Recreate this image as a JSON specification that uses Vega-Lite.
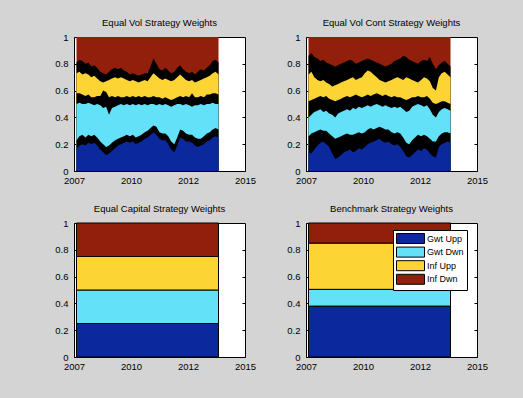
{
"$schema": "https://vega.github.io/schema/vega-lite/v6.json",
"background": "#d4d4d4",
"autosize": {"type": "none"},
"padding": {"left": 74, "top": 37, "right": 449, "bottom": 361},
"datasets": {
"ev": [
{"t":2007.12,"u1":0.16,"h1":0.23,"u2":0.50,"h2":0.58,"u3":0.73,"h3":0.81},
{"t":2007.26,"u1":0.19,"h1":0.26,"u2":0.51,"h2":0.58,"u3":0.74,"h3":0.83},
{"t":2007.40,"u1":0.20,"h1":0.27,"u2":0.50,"h2":0.57,"u3":0.72,"h3":0.82},
{"t":2007.55,"u1":0.19,"h1":0.25,"u2":0.50,"h2":0.56,"u3":0.73,"h3":0.80},
{"t":2007.69,"u1":0.21,"h1":0.27,"u2":0.51,"h2":0.57,"u3":0.72,"h3":0.81},
{"t":2007.83,"u1":0.20,"h1":0.26,"u2":0.50,"h2":0.55,"u3":0.70,"h3":0.78},
{"t":2007.97,"u1":0.21,"h1":0.27,"u2":0.49,"h2":0.55,"u3":0.71,"h3":0.79},
{"t":2008.11,"u1":0.19,"h1":0.25,"u2":0.50,"h2":0.56,"u3":0.69,"h3":0.77},
{"t":2008.26,"u1":0.16,"h1":0.22,"u2":0.49,"h2":0.56,"u3":0.67,"h3":0.74},
{"t":2008.40,"u1":0.14,"h1":0.20,"u2":0.47,"h2":0.60,"u3":0.66,"h3":0.73},
{"t":2008.54,"u1":0.12,"h1":0.18,"u2":0.48,"h2":0.59,"u3":0.67,"h3":0.72},
{"t":2008.68,"u1":0.13,"h1":0.19,"u2":0.42,"h2":0.55,"u3":0.68,"h3":0.74},
{"t":2008.82,"u1":0.15,"h1":0.21,"u2":0.47,"h2":0.56,"u3":0.69,"h3":0.76},
{"t":2008.97,"u1":0.17,"h1":0.23,"u2":0.48,"h2":0.55,"u3":0.70,"h3":0.77},
{"t":2009.11,"u1":0.19,"h1":0.24,"u2":0.49,"h2":0.56,"u3":0.69,"h3":0.76},
{"t":2009.25,"u1":0.20,"h1":0.25,"u2":0.50,"h2":0.55,"u3":0.70,"h3":0.77},
{"t":2009.39,"u1":0.21,"h1":0.26,"u2":0.49,"h2":0.55,"u3":0.69,"h3":0.75},
{"t":2009.53,"u1":0.22,"h1":0.27,"u2":0.50,"h2":0.56,"u3":0.68,"h3":0.74},
{"t":2009.68,"u1":0.21,"h1":0.26,"u2":0.49,"h2":0.55,"u3":0.67,"h3":0.72},
{"t":2009.82,"u1":0.22,"h1":0.27,"u2":0.50,"h2":0.56,"u3":0.68,"h3":0.73},
{"t":2009.96,"u1":0.20,"h1":0.25,"u2":0.49,"h2":0.55,"u3":0.67,"h3":0.72},
{"t":2010.10,"u1":0.21,"h1":0.26,"u2":0.50,"h2":0.56,"u3":0.66,"h3":0.71},
{"t":2010.24,"u1":0.22,"h1":0.27,"u2":0.49,"h2":0.55,"u3":0.67,"h3":0.72},
{"t":2010.39,"u1":0.24,"h1":0.29,"u2":0.50,"h2":0.56,"u3":0.68,"h3":0.73},
{"t":2010.53,"u1":0.25,"h1":0.30,"u2":0.49,"h2":0.55,"u3":0.67,"h3":0.73},
{"t":2010.67,"u1":0.27,"h1":0.32,"u2":0.50,"h2":0.55,"u3":0.70,"h3":0.78},
{"t":2010.81,"u1":0.29,"h1":0.34,"u2":0.50,"h2":0.56,"u3":0.73,"h3":0.84},
{"t":2010.95,"u1":0.27,"h1":0.33,"u2":0.49,"h2":0.55,"u3":0.71,"h3":0.80},
{"t":2011.10,"u1":0.24,"h1":0.29,"u2":0.50,"h2":0.55,"u3":0.69,"h3":0.76},
{"t":2011.24,"u1":0.23,"h1":0.28,"u2":0.49,"h2":0.54,"u3":0.68,"h3":0.75},
{"t":2011.38,"u1":0.23,"h1":0.28,"u2":0.50,"h2":0.55,"u3":0.69,"h3":0.77},
{"t":2011.52,"u1":0.20,"h1":0.26,"u2":0.49,"h2":0.54,"u3":0.68,"h3":0.75},
{"t":2011.66,"u1":0.16,"h1":0.22,"u2":0.48,"h2":0.53,"u3":0.67,"h3":0.73},
{"t":2011.81,"u1":0.14,"h1":0.20,"u2":0.49,"h2":0.54,"u3":0.68,"h3":0.74},
{"t":2011.95,"u1":0.19,"h1":0.25,"u2":0.50,"h2":0.55,"u3":0.70,"h3":0.77},
{"t":2012.09,"u1":0.25,"h1":0.31,"u2":0.50,"h2":0.56,"u3":0.72,"h3":0.79},
{"t":2012.23,"u1":0.24,"h1":0.30,"u2":0.49,"h2":0.55,"u3":0.70,"h3":0.76},
{"t":2012.37,"u1":0.22,"h1":0.28,"u2":0.50,"h2":0.56,"u3":0.68,"h3":0.74},
{"t":2012.52,"u1":0.22,"h1":0.27,"u2":0.49,"h2":0.55,"u3":0.67,"h3":0.73},
{"t":2012.66,"u1":0.21,"h1":0.27,"u2":0.48,"h2":0.58,"u3":0.68,"h3":0.74},
{"t":2012.80,"u1":0.19,"h1":0.25,"u2":0.49,"h2":0.55,"u3":0.66,"h3":0.72},
{"t":2012.94,"u1":0.18,"h1":0.24,"u2":0.49,"h2":0.55,"u3":0.67,"h3":0.74},
{"t":2013.08,"u1":0.19,"h1":0.24,"u2":0.50,"h2":0.56,"u3":0.68,"h3":0.76},
{"t":2013.23,"u1":0.20,"h1":0.26,"u2":0.49,"h2":0.55,"u3":0.69,"h3":0.75},
{"t":2013.37,"u1":0.22,"h1":0.28,"u2":0.50,"h2":0.57,"u3":0.70,"h3":0.77},
{"t":2013.51,"u1":0.23,"h1":0.29,"u2":0.50,"h2":0.57,"u3":0.71,"h3":0.79},
{"t":2013.65,"u1":0.25,"h1":0.31,"u2":0.51,"h2":0.58,"u3":0.73,"h3":0.82},
{"t":2013.79,"u1":0.26,"h1":0.32,"u2":0.50,"h2":0.58,"u3":0.74,"h3":0.83},
{"t":2013.93,"u1":0.25,"h1":0.31,"u2":0.50,"h2":0.57,"u3":0.72,"h3":0.81}
],
"evc": [
{"t":2007.12,"u1":0.14,"h1":0.26,"u2":0.40,"h2":0.52,"u3":0.72,"h3":0.86},
{"t":2007.26,"u1":0.13,"h1":0.28,"u2":0.42,"h2":0.53,"u3":0.74,"h3":0.88},
{"t":2007.40,"u1":0.16,"h1":0.29,"u2":0.44,"h2":0.54,"u3":0.70,"h3":0.85},
{"t":2007.55,"u1":0.19,"h1":0.30,"u2":0.45,"h2":0.55,"u3":0.68,"h3":0.84},
{"t":2007.69,"u1":0.21,"h1":0.31,"u2":0.46,"h2":0.56,"u3":0.67,"h3":0.82},
{"t":2007.83,"u1":0.22,"h1":0.30,"u2":0.44,"h2":0.55,"u3":0.68,"h3":0.83},
{"t":2007.97,"u1":0.20,"h1":0.30,"u2":0.45,"h2":0.56,"u3":0.66,"h3":0.81},
{"t":2008.11,"u1":0.18,"h1":0.28,"u2":0.43,"h2":0.54,"u3":0.65,"h3":0.80},
{"t":2008.26,"u1":0.13,"h1":0.26,"u2":0.42,"h2":0.53,"u3":0.63,"h3":0.79},
{"t":2008.40,"u1":0.09,"h1":0.24,"u2":0.40,"h2":0.52,"u3":0.64,"h3":0.78},
{"t":2008.54,"u1":0.10,"h1":0.25,"u2":0.43,"h2":0.53,"u3":0.65,"h3":0.79},
{"t":2008.68,"u1":0.12,"h1":0.26,"u2":0.44,"h2":0.54,"u3":0.66,"h3":0.80},
{"t":2008.82,"u1":0.14,"h1":0.27,"u2":0.45,"h2":0.55,"u3":0.67,"h3":0.81},
{"t":2008.97,"u1":0.15,"h1":0.28,"u2":0.46,"h2":0.56,"u3":0.68,"h3":0.82},
{"t":2009.11,"u1":0.16,"h1":0.27,"u2":0.45,"h2":0.55,"u3":0.69,"h3":0.83},
{"t":2009.25,"u1":0.14,"h1":0.27,"u2":0.47,"h2":0.56,"u3":0.70,"h3":0.82},
{"t":2009.39,"u1":0.15,"h1":0.28,"u2":0.46,"h2":0.57,"u3":0.68,"h3":0.80},
{"t":2009.53,"u1":0.17,"h1":0.29,"u2":0.48,"h2":0.56,"u3":0.69,"h3":0.81},
{"t":2009.68,"u1":0.16,"h1":0.28,"u2":0.47,"h2":0.55,"u3":0.70,"h3":0.82},
{"t":2009.82,"u1":0.18,"h1":0.29,"u2":0.48,"h2":0.56,"u3":0.73,"h3":0.83},
{"t":2009.96,"u1":0.20,"h1":0.31,"u2":0.49,"h2":0.57,"u3":0.75,"h3":0.84},
{"t":2010.10,"u1":0.21,"h1":0.32,"u2":0.48,"h2":0.56,"u3":0.74,"h3":0.83},
{"t":2010.24,"u1":0.22,"h1":0.31,"u2":0.49,"h2":0.57,"u3":0.72,"h3":0.82},
{"t":2010.39,"u1":0.23,"h1":0.32,"u2":0.50,"h2":0.58,"u3":0.70,"h3":0.81},
{"t":2010.53,"u1":0.24,"h1":0.33,"u2":0.49,"h2":0.57,"u3":0.68,"h3":0.80},
{"t":2010.67,"u1":0.22,"h1":0.32,"u2":0.48,"h2":0.56,"u3":0.67,"h3":0.79},
{"t":2010.81,"u1":0.21,"h1":0.31,"u2":0.49,"h2":0.57,"u3":0.66,"h3":0.78},
{"t":2010.95,"u1":0.22,"h1":0.31,"u2":0.48,"h2":0.56,"u3":0.67,"h3":0.79},
{"t":2011.10,"u1":0.20,"h1":0.29,"u2":0.47,"h2":0.55,"u3":0.68,"h3":0.80},
{"t":2011.24,"u1":0.19,"h1":0.28,"u2":0.48,"h2":0.56,"u3":0.69,"h3":0.82},
{"t":2011.38,"u1":0.20,"h1":0.29,"u2":0.47,"h2":0.55,"u3":0.70,"h3":0.83},
{"t":2011.52,"u1":0.18,"h1":0.28,"u2":0.48,"h2":0.55,"u3":0.69,"h3":0.84},
{"t":2011.66,"u1":0.15,"h1":0.25,"u2":0.46,"h2":0.54,"u3":0.68,"h3":0.86},
{"t":2011.81,"u1":0.11,"h1":0.21,"u2":0.44,"h2":0.53,"u3":0.70,"h3":0.85},
{"t":2011.95,"u1":0.10,"h1":0.20,"u2":0.45,"h2":0.54,"u3":0.69,"h3":0.83},
{"t":2012.09,"u1":0.12,"h1":0.23,"u2":0.48,"h2":0.55,"u3":0.68,"h3":0.82},
{"t":2012.23,"u1":0.14,"h1":0.25,"u2":0.49,"h2":0.55,"u3":0.67,"h3":0.81},
{"t":2012.37,"u1":0.16,"h1":0.27,"u2":0.50,"h2":0.56,"u3":0.66,"h3":0.80},
{"t":2012.52,"u1":0.15,"h1":0.26,"u2":0.49,"h2":0.55,"u3":0.68,"h3":0.82},
{"t":2012.66,"u1":0.17,"h1":0.27,"u2":0.48,"h2":0.55,"u3":0.70,"h3":0.83},
{"t":2012.80,"u1":0.16,"h1":0.26,"u2":0.49,"h2":0.56,"u3":0.69,"h3":0.82},
{"t":2012.94,"u1":0.13,"h1":0.24,"u2":0.46,"h2":0.54,"u3":0.67,"h3":0.85},
{"t":2013.08,"u1":0.11,"h1":0.22,"u2":0.42,"h2":0.51,"u3":0.62,"h3":0.80},
{"t":2013.23,"u1":0.10,"h1":0.22,"u2":0.40,"h2":0.50,"u3":0.60,"h3":0.76},
{"t":2013.37,"u1":0.18,"h1":0.26,"u2":0.44,"h2":0.51,"u3":0.70,"h3":0.79},
{"t":2013.51,"u1":0.20,"h1":0.28,"u2":0.46,"h2":0.52,"u3":0.73,"h3":0.81},
{"t":2013.65,"u1":0.21,"h1":0.29,"u2":0.47,"h2":0.52,"u3":0.74,"h3":0.82},
{"t":2013.79,"u1":0.22,"h1":0.29,"u2":0.46,"h2":0.51,"u3":0.72,"h3":0.80},
{"t":2013.93,"u1":0.21,"h1":0.28,"u2":0.45,"h2":0.50,"u3":0.70,"h3":0.78}
],
"ec": [
{"t":2007.12,"s":"Gwt Upp","o":1,"w":0.25},{"t":2013.93,"s":"Gwt Upp","o":1,"w":0.25},
{"t":2007.12,"s":"Gwt Dwn","o":2,"w":0.25},{"t":2013.93,"s":"Gwt Dwn","o":2,"w":0.25},
{"t":2007.12,"s":"Inf Upp","o":3,"w":0.25},{"t":2013.93,"s":"Inf Upp","o":3,"w":0.25},
{"t":2007.12,"s":"Inf Dwn","o":4,"w":0.25},{"t":2013.93,"s":"Inf Dwn","o":4,"w":0.25}
],
"bm": [
{"t":2007.12,"s":"Gwt Upp","o":1,"w":0.38},{"t":2013.93,"s":"Gwt Upp","o":1,"w":0.38},
{"t":2007.12,"s":"Gwt Dwn","o":2,"w":0.125},{"t":2013.93,"s":"Gwt Dwn","o":2,"w":0.125},
{"t":2007.12,"s":"Inf Upp","o":3,"w":0.345},{"t":2013.93,"s":"Inf Upp","o":3,"w":0.345},
{"t":2007.12,"s":"Inf Dwn","o":4,"w":0.15},{"t":2013.93,"s":"Inf Dwn","o":4,"w":0.15}
]
},
"columns": 2,
"spacing": {"row": 52, "column": 61},
"bounds": "flush",
"resolve": {"scale": {"color": "independent"}, "legend": {"color": "independent"}},
"concat": [
{
"title": "Equal Vol Strategy Weights",
"width": 171, "height": 134,
"data": {"name": "ev"},
"resolve": {"axis": {"x": "independent", "y": "independent"}},
"layer": [
{
"encoding": {"x": {"field": "t", "type": "quantitative", "title": null, "scale": {"domain": [2007, 2015.2], "nice": false, "zero": false},
  "axis": {"values": [2007, 2009.7333, 2012.4667, 2015.2], "labelExpr": "datum.value < 2008 ? '2007' : datum.value < 2011 ? '2010' : datum.value < 2014 ? '2012' : '2015'"}}},
"layer": [
{"mark": {"type": "area", "color": "#911f0b"}, "encoding": {"y": {"datum": 1, "type": "quantitative", "title": null, "scale": {"domain": [0, 1], "nice": false}, "axis": {"values": [0, 0.2, 0.4, 0.6, 0.8, 1], "format": ".1~f"}}}},
{"mark": {"type": "area", "color": "#000000"}, "encoding": {"y": {"field": "h3", "type": "quantitative", "title": null, "axis": {"values": [0, 0.2, 0.4, 0.6, 0.8, 1], "format": ".1~f"}}}},
{"mark": {"type": "area", "color": "#fcd535"}, "encoding": {"y": {"field": "u3", "type": "quantitative", "title": null, "axis": {"values": [0, 0.2, 0.4, 0.6, 0.8, 1], "format": ".1~f"}}}},
{"mark": {"type": "area", "color": "#000000"}, "encoding": {"y": {"field": "h2", "type": "quantitative", "title": null, "axis": {"values": [0, 0.2, 0.4, 0.6, 0.8, 1], "format": ".1~f"}}}},
{"mark": {"type": "area", "color": "#62e1f9"}, "encoding": {"y": {"field": "u2", "type": "quantitative", "title": null, "axis": {"values": [0, 0.2, 0.4, 0.6, 0.8, 1], "format": ".1~f"}}}},
{"mark": {"type": "area", "color": "#000000"}, "encoding": {"y": {"field": "h1", "type": "quantitative", "title": null, "axis": {"values": [0, 0.2, 0.4, 0.6, 0.8, 1], "format": ".1~f"}}}},
{"mark": {"type": "area", "color": "#0b289c"}, "encoding": {"y": {"field": "u1", "type": "quantitative", "title": null, "axis": {"values": [0, 0.2, 0.4, 0.6, 0.8, 1], "format": ".1~f"}}}}
]
},
{"mark": {"type": "area", "opacity": 0}, "encoding": {
  "x": {"field": "t", "type": "quantitative", "title": null, "axis": {"orient": "top", "labels": false, "values": [2009.7333, 2012.4667]}},
  "y": {"field": "u1", "type": "quantitative", "title": null, "axis": {"orient": "right", "labels": false, "values": [0.2, 0.4, 0.6, 0.8]}}}}
]
},
{
"title": "Equal Vol Cont Strategy Weights",
"width": 171, "height": 134,
"data": {"name": "evc"},
"resolve": {"axis": {"x": "independent", "y": "independent"}},
"layer": [
{
"encoding": {"x": {"field": "t", "type": "quantitative", "title": null, "scale": {"domain": [2007, 2015.2], "nice": false, "zero": false},
  "axis": {"values": [2007, 2009.7333, 2012.4667, 2015.2], "labelExpr": "datum.value < 2008 ? '2007' : datum.value < 2011 ? '2010' : datum.value < 2014 ? '2012' : '2015'"}}},
"layer": [
{"mark": {"type": "area", "color": "#911f0b"}, "encoding": {"y": {"datum": 1, "type": "quantitative", "title": null, "scale": {"domain": [0, 1], "nice": false}, "axis": {"values": [0, 0.2, 0.4, 0.6, 0.8, 1], "format": ".1~f"}}}},
{"mark": {"type": "area", "color": "#000000"}, "encoding": {"y": {"field": "h3", "type": "quantitative", "title": null, "axis": {"values": [0, 0.2, 0.4, 0.6, 0.8, 1], "format": ".1~f"}}}},
{"mark": {"type": "area", "color": "#fcd535"}, "encoding": {"y": {"field": "u3", "type": "quantitative", "title": null, "axis": {"values": [0, 0.2, 0.4, 0.6, 0.8, 1], "format": ".1~f"}}}},
{"mark": {"type": "area", "color": "#000000"}, "encoding": {"y": {"field": "h2", "type": "quantitative", "title": null, "axis": {"values": [0, 0.2, 0.4, 0.6, 0.8, 1], "format": ".1~f"}}}},
{"mark": {"type": "area", "color": "#62e1f9"}, "encoding": {"y": {"field": "u2", "type": "quantitative", "title": null, "axis": {"values": [0, 0.2, 0.4, 0.6, 0.8, 1], "format": ".1~f"}}}},
{"mark": {"type": "area", "color": "#000000"}, "encoding": {"y": {"field": "h1", "type": "quantitative", "title": null, "axis": {"values": [0, 0.2, 0.4, 0.6, 0.8, 1], "format": ".1~f"}}}},
{"mark": {"type": "area", "color": "#0b289c"}, "encoding": {"y": {"field": "u1", "type": "quantitative", "title": null, "axis": {"values": [0, 0.2, 0.4, 0.6, 0.8, 1], "format": ".1~f"}}}}
]
},
{"mark": {"type": "area", "opacity": 0}, "encoding": {
  "x": {"field": "t", "type": "quantitative", "title": null, "axis": {"orient": "top", "labels": false, "values": [2009.7333, 2012.4667]}},
  "y": {"field": "u1", "type": "quantitative", "title": null, "axis": {"orient": "right", "labels": false, "values": [0.2, 0.4, 0.6, 0.8]}}}}
]
},
{
"title": "Equal Capital Strategy Weights",
"width": 171, "height": 134,
"data": {"name": "ec"},
"resolve": {"axis": {"x": "independent", "y": "independent"}},
"layer": [
{
"mark": {"type": "area", "stroke": "#000000", "strokeWidth": 1},
"encoding": {
  "x": {"field": "t", "type": "quantitative", "title": null, "scale": {"domain": [2007, 2015.2], "nice": false, "zero": false},
    "axis": {"values": [2007, 2009.7333, 2012.4667, 2015.2], "labelExpr": "datum.value < 2008 ? '2007' : datum.value < 2011 ? '2010' : datum.value < 2014 ? '2012' : '2015'"}},
  "y": {"field": "w", "type": "quantitative", "stack": "zero", "title": null, "scale": {"domain": [0, 1], "nice": false}, "axis": {"values": [0, 0.2, 0.4, 0.6, 0.8, 1], "format": ".1~f"}},
  "color": {"field": "s", "type": "nominal", "scale": {"domain": ["Gwt Upp", "Gwt Dwn", "Inf Upp", "Inf Dwn"], "range": ["#0b289c", "#62e1f9", "#fcd535", "#911f0b"]}, "legend": null},
  "order": {"field": "o", "type": "quantitative"}
}
},
{"mark": {"type": "area", "opacity": 0}, "encoding": {
  "x": {"field": "t", "type": "quantitative", "title": null, "axis": {"orient": "top", "labels": false, "values": [2009.7333, 2012.4667]}},
  "y": {"field": "w", "type": "quantitative", "stack": null, "title": null, "axis": {"orient": "right", "labels": false, "values": [0.2, 0.4, 0.6, 0.8]}}}}
]
},
{
"title": "Benchmark Strategy Weights",
"width": 171, "height": 134,
"data": {"name": "bm"},
"resolve": {"axis": {"x": "independent", "y": "independent"}},
"layer": [
{
"mark": {"type": "area", "stroke": "#000000", "strokeWidth": 1},
"encoding": {
  "x": {"field": "t", "type": "quantitative", "title": null, "scale": {"domain": [2007, 2015.2], "nice": false, "zero": false},
    "axis": {"values": [2007, 2009.7333, 2012.4667, 2015.2], "labelExpr": "datum.value < 2008 ? '2007' : datum.value < 2011 ? '2010' : datum.value < 2014 ? '2012' : '2015'"}},
  "y": {"field": "w", "type": "quantitative", "stack": "zero", "title": null, "scale": {"domain": [0, 1], "nice": false}, "axis": {"values": [0, 0.2, 0.4, 0.6, 0.8, 1], "format": ".1~f"}},
  "color": {"field": "s", "type": "nominal", "scale": {"domain": ["Gwt Upp", "Gwt Dwn", "Inf Upp", "Inf Dwn"], "range": ["#0b289c", "#62e1f9", "#fcd535", "#911f0b"]},
    "legend": {"orient": "none", "legendX": 87, "legendY": 7, "title": null, "fillColor": "#ffffff", "strokeColor": "#000000", "padding": 3, "symbolType": "M-2.8,-1H2.8V1H-2.8Z", "symbolSize": 100, "symbolOffset": 9, "symbolStrokeColor": "#000000", "symbolStrokeWidth": 1, "labelFontSize": 9, "labelColor": "#000000", "labelFont": "Liberation Sans", "rowPadding": -1.4, "labelOffset": 11}},
  "order": {"field": "o", "type": "quantitative"}
}
},
{"mark": {"type": "area", "opacity": 0}, "encoding": {
  "x": {"field": "t", "type": "quantitative", "title": null, "axis": {"orient": "top", "labels": false, "values": [2009.7333, 2012.4667]}},
  "y": {"field": "w", "type": "quantitative", "stack": null, "title": null, "axis": {"orient": "right", "labels": false, "values": [0.2, 0.4, 0.6, 0.8]}}}}
]
}
],
"config": {
  "font": "Liberation Sans",
  "view": {"stroke": "#000000", "strokeWidth": 1, "fill": "#ffffff"},
  "title": {"fontSize": 9.5, "fontWeight": "normal", "color": "#000000", "offset": 5, "font": "Liberation Sans"},
  "axis": {"domain": false, "grid": false, "tickColor": "#000000", "tickSize": -3, "labelFontSize": 9.5, "labelColor": "#000000", "labelFont": "Liberation Sans", "labelFlush": false, "labelOverlap": false, "labelBound": false},
  "axisX": {"labelPadding": 7},
  "axisY": {"labelPadding": 9},
  "area": {"interpolate": "linear"}
}
}
